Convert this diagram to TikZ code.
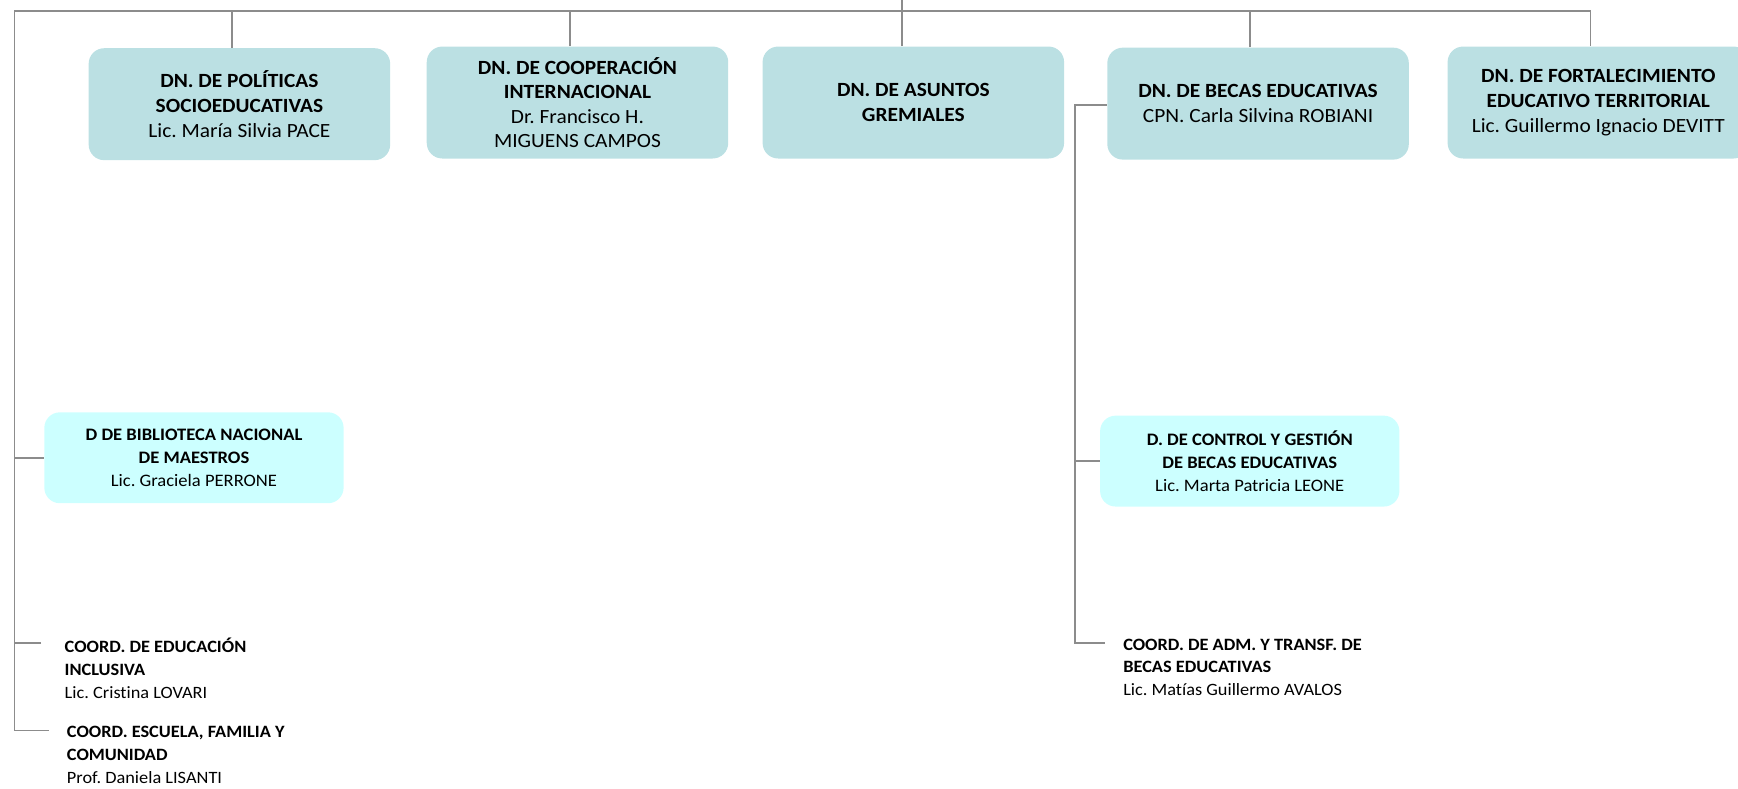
\documentclass[tikz,border=0pt]{standalone}
\usepackage{fontspec}
\setmainfont{Carlito}[FakeStretch=1.06, Ligatures={NoCommon}]
\usetikzlibrary{calc}
\definecolor{topfill}{HTML}{BBE0E3}
\definecolor{subfill}{HTML}{CCFFFF}
\definecolor{linegray}{HTML}{8C8C8C}
\tikzset{
  topbox/.style={rounded corners=7pt, fill=topfill, minimum width=136pt, minimum height=50.5pt,
    align=center, inner sep=0pt, font=\fontsize{9.1}{11.1}\selectfont},
  subbox/.style={rounded corners=7pt, fill=subfill, minimum width=135pt, minimum height=41pt,
    align=center, inner sep=0pt, font=\fontsize{7.9}{10.2}\selectfont},
  coordtext/.style={anchor=west, align=left, inner sep=0pt, font=\fontsize{7.8}{10.2}\selectfont},
  conn/.style={draw=linegray, line width=0.8pt}
}
\begin{document}
\frenchspacing
\begin{tikzpicture}[x=0.5pt, y=-0.5pt]
\useasboundingbox (0,0) rectangle (1568,711);
\clip (0,0) rectangle (1568,711);
% boxes
\node[topbox] (b1) at (216,94) {\textbf{DN. DE POLÍTICAS}\\\textbf{SOCIOEDUCATIVAS}\\Lic. María Silvia PACE};
\node[topbox] (b2) at (521,92.5) {\textbf{DN. DE COOPERACIÓN}\\\textbf{INTERNACIONAL}\\Dr. Francisco H.\\MIGUENS CAMPOS};
\node[topbox] (b3) at (824,92.5) {\textbf{DN. DE ASUNTOS}\\\textbf{GREMIALES}};
\node[topbox] (b4) at (1135,93.5) {\textbf{DN. DE BECAS EDUCATIVAS}\\CPN. Carla Silvina ROBIANI};
\node[topbox] (b5) at (1442,92.5) {\textbf{DN. DE FORTALECIMIENTO}\\\textbf{EDUCATIVO TERRITORIAL}\\Lic. Guillermo Ignacio DEVITT};
\node[subbox] (bib) at (175,413) {\textbf{D DE BIBLIOTECA NACIONAL}\\\textbf{DE MAESTROS}\\Lic. Graciela PERRONE};
\node[subbox] (ctl) at (1127.5,416) {\textbf{D. DE CONTROL Y GESTIÓN}\\\textbf{DE BECAS EDUCATIVAS}\\Lic. Marta Patricia LEONE};
\node[coordtext] (ce) at (58,603) {\textbf{COORD. DE EDUCACIÓN}\\\textbf{INCLUSIVA}\\Lic. Cristina LOVARI};
\node[coordtext] (cs) at (60,681) {\textbf{COORD. ESCUELA, FAMILIA Y}\\\textbf{COMUNIDAD}\\Prof. Daniela LISANTI};
\node[coordtext] (ca) at (1013,602) {\textbf{COORD. DE ADM. Y TRANSF. DE}\\\textbf{BECAS EDUCATIVAS}\\Lic. Matías Guillermo AVALOS};
% coordinates
\coordinate (root) at (814,-5);
\coordinate (busL) at (13,10);
\coordinate (busR) at (1435,10);
\coordinate (ceL) at (37,580);
\coordinate (csL) at (44,659);
\coordinate (caL) at (997,580);
\coordinate (bkL) at (970,95);
% connectors
\draw[conn] (root) -- (root |- busL);
\draw[conn] (busR) -- (busL) -- (busL |- csL) -- (csL);
\draw[conn] ($(b1.north)+(-7,0)$) -- ($(b1.north |- busL)+(-7,0)$);
\draw[conn] ($(b2.north)+(-7,0)$) -- ($(b2.north |- busL)+(-7,0)$);
\draw[conn] ($(b3.north)+(-10,0)$) -- ($(b3.north |- busL)+(-10,0)$);
\draw[conn] ($(b4.north)+(-7,0)$) -- ($(b4.north |- busL)+(-7,0)$);
\draw[conn] (busR) -- (busR |- b5.north);
\draw[conn] (bib.west) -- (bib.west -| busL);
\draw[conn] (ceL) -- (ceL -| busL);
\draw[conn] (b4.west |- bkL) -- (bkL) -- (bkL |- caL) -- (caL);
\draw[conn] (ctl.west) -- (ctl.west -| bkL);
\end{tikzpicture}
\end{document}
